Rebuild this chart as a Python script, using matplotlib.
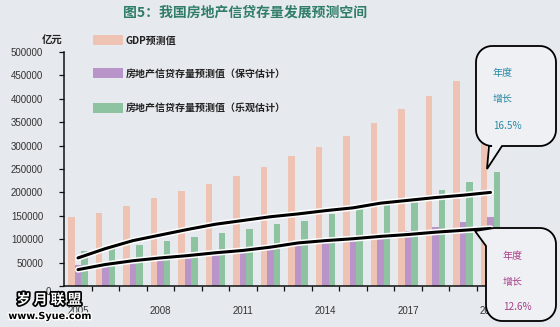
import numpy as np
import matplotlib
matplotlib.use('Agg')
import matplotlib.pyplot as plt
from matplotlib.transforms import Affine2D
from matplotlib.patches import Rectangle, Polygon
import matplotlib.patheffects as pe

plt.rcParams['font.family'] = ['Liberation Sans', 'Noto Sans CJK SC', 'DejaVu Sans']
CJK = ['Noto Sans CJK SC', 'DejaVu Sans']

# ---------------- data ----------------
years = list(range(2005, 2021))
year_labels = ['2005', '2008', '2011', '2014', '2017', '2020']
gdp = [148000, 157000, 172000, 187000, 202000, 219000, 236000, 255000,
       277000, 298000, 321000, 349000, 379000, 406000, 438000, 470000]
conservative = [45000, 48000, 53000, 57000, 64000, 70000, 74000, 81000,
                85000, 94000, 102000, 111000, 117000, 126000, 136000, 147000]
optimistic = [74000, 79000, 87000, 96000, 104000, 113000, 121000, 132000,
              139000, 153000, 164000, 177000, 191000, 206000, 223000, 243000]
trend_opt = [60000, 80000, 97000, 109000, 121000, 132000, 140000, 148000,
             154000, 161000, 167000, 177000, 183000, 189000, 194000, 200000]
trend_cons = [35000, 46000, 54000, 60000, 65000, 71000, 76000, 83000,
              92000, 97000, 101000, 106000, 110000, 115000, 119000, 123000]
yticks = [0, 50000, 100000, 150000, 200000, 250000, 300000, 350000, 400000, 450000, 500000]
series_names = ['GDP预测值', '房地产信贷存量预测值（保守估计）', '房地产信贷存量预测值（乐观估计）']
growth_opt = '16.5%'
growth_cons = '12.6%'

# ---------------- style ----------------
W, H = 560, 327
BG = '#e6e9ed'
C_GDP = '#efc3b3'
C_CON = '#b994c9'
C_OPT = '#8ec3a1'

fig = plt.figure(figsize=(W / 100, H / 100), dpi=100, facecolor=BG)
ax = fig.add_axes([64.25 / W, 41 / H, 440 / W, 234 / H])
ax.set_facecolor(BG)
PX = Affine2D().scale(1 / W, -1 / H).translate(0, 1) + fig.transFigure

x = np.arange(len(years))
bw = 0.22
ax.bar(x - 0.236, gdp, bw, color=C_GDP, zorder=2)
ax.bar(x, conservative, bw, color=C_CON, zorder=2)
ax.bar(x + 0.236, optimistic, bw, color=C_OPT, zorder=2)

halo = [pe.Stroke(linewidth=4.4, foreground='white'), pe.Normal()]
ax.plot(x, trend_opt, color='black', lw=2.2, zorder=4, path_effects=halo,
        solid_capstyle='round')
ax.plot(x, trend_cons, color='black', lw=2.2, zorder=4, path_effects=halo,
        solid_capstyle='round')

ax.set_xlim(-0.5, len(years) - 0.5)
ax.set_ylim(0, 500000)
for s in ['top', 'right']:
    ax.spines[s].set_visible(False)
for s in ['left', 'bottom']:
    ax.spines[s].set_linewidth(1.1)
    ax.spines[s].set_color('#111111')

ax.set_yticks(yticks)
ax.set_yticklabels(['' if v == 0 else str(v) for v in yticks])
ax.tick_params(axis='y', direction='out', length=3.6, width=0.9, color='#111111',
               pad=11.5, labelsize=7, labelcolor='#333333')

ax.set_xticks(np.arange(len(years) - 1) + 0.5)
ax.set_xticklabels([])
ax.tick_params(axis='x', which='major', direction='out', length=3.6, width=0.9,
               color='#111111')
ax.set_xticks([years.index(int(y)) for y in year_labels], minor=True)
ax.set_xticklabels(year_labels, minor=True)
ax.tick_params(axis='x', which='minor', length=0, pad=14.5, labelsize=7,
               labelcolor='#333333')

fig.text(48.5, 292, '0', transform=PX, ha='center', va='center', fontsize=7,
         color='#333333')

# title and unit
fig.text(245, 12.7, '图5：我国房地产信贷存量发展预测空间', transform=PX, ha='center',
         va='center', fontsize=10, color='#2f7d68', family=CJK, fontweight='bold')
fig.text(52.5, 41, '亿元', transform=PX, ha='center', va='center', fontsize=7.5,
         family=CJK, fontweight='bold', color='#222222')

# legend
for yc, col, name in zip([40, 73, 107.5], [C_GDP, C_CON, C_OPT], series_names):
    fig.add_artist(Rectangle((93, yc - 5), 30, 10, transform=PX, facecolor=col,
                             edgecolor='none', zorder=3))
    fig.text(126, yc + 0.8, name, transform=PX, ha='left', va='center', fontsize=7.2,
             family=CJK, fontweight='bold', color='#222222')


# callouts
def arc(cx, cy, r, a0, a1, n=10):
    a = np.radians(np.linspace(a0, a1, n))
    return list(zip(cx + r * np.cos(a), cy + r * np.sin(a)))


def callout_top(x0, y0, x1, y1, r, tb0, tb1, tip):
    pts = []
    pts += arc(x0 + r, y0 + r, r, 180, 270)
    pts += arc(x1 - r, y0 + r, r, 270, 360)
    pts += arc(x1 - r, y1 - r, r, 0, 90)
    pts += [(tb1, y1), tip, (tb0, y1)]
    pts += arc(x0 + r, y1 - r, r, 90, 180)
    return pts


def callout_bottom(x0, y0, x1, y1, r, ys, xs, tip):
    pts = [(xs, y0)]
    pts += arc(x1 - r, y0 + r, r, 270, 360)
    pts += arc(x1 - r, y1 - r, r, 0, 90)
    pts += arc(x0 + r, y1 - r, r, 90, 180)
    pts += [(x0, ys), tip]
    return pts


box_fc = '#eef0f3'
p1 = callout_top(476, 46, 556, 146, 16, 489, 502, (487, 169))
fig.add_artist(Polygon(p1, closed=True, transform=PX, facecolor=box_fc,
                       edgecolor='black', lw=1.3, zorder=5))
p2 = callout_bottom(486, 228, 556, 321, 16, 246, 494, (475, 231))
fig.add_artist(Polygon(p2, closed=True, transform=PX, facecolor=box_fc,
                       edgecolor='black', lw=1.3, zorder=5))

for yy, t in zip([73, 99, 126], ['年度', '增长', growth_opt]):
    fig.text(493, yy, t, transform=PX, ha='left', va='center', fontsize=7.2,
             family=CJK, color='#2a8aa5', zorder=6)
for yy, t in zip([256, 282, 307], ['年度', '增长', growth_cons]):
    fig.text(503, yy, t, transform=PX, ha='left', va='center', fontsize=7.2,
             family=CJK, color='#a8408a', zorder=6)

# watermark
fig.text(49, 300, '岁 月 联 盟', transform=PX, ha='center', va='center', fontsize=10,
         family=CJK, fontweight='bold', color='white', zorder=7,
         path_effects=[pe.withStroke(linewidth=2.5, foreground='black')])
fig.text(50, 316, 'www.Syue.com', transform=PX, ha='center', va='center', fontsize=7,
         family=['DejaVu Sans'], fontweight='bold', color='black', zorder=7,
         path_effects=[pe.withStroke(linewidth=2, foreground='white')])

fig.savefig('out.png', dpi=100, facecolor=BG)
